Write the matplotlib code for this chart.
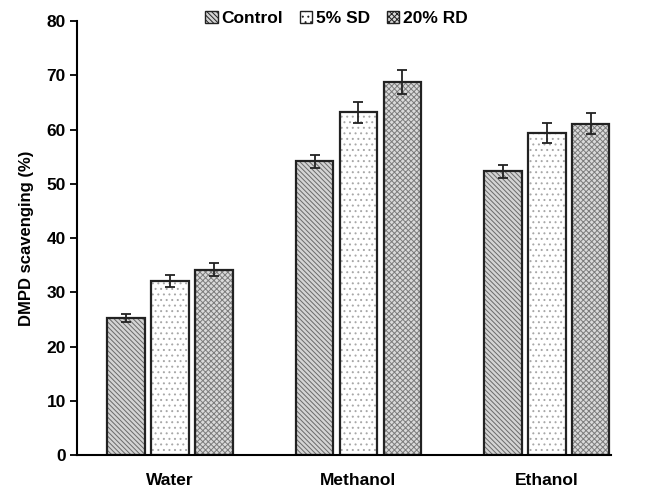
import matplotlib

matplotlib.use("Agg")
import matplotlib.pyplot as plt
import numpy as np
from matplotlib.patches import Patch

plt.rcParams["font.family"] = ["Liberation Sans", "DejaVu Sans"]
plt.rcParams["font.weight"] = "bold"
plt.rcParams["hatch.linewidth"] = 0.7

solvents = ["Water", "Methanol", "Ethanol"]
series = ["Control", "5% SD", "20% RD"]
control = [25.3, 54.2, 52.3]
sd5 = [32.1, 63.2, 59.4]
rd20 = [34.2, 68.8, 61.1]
control_err = [0.7, 1.2, 1.2]
sd5_err = [1.1, 1.9, 1.8]
rd20_err = [1.2, 2.2, 2.0]

values = [control, sd5, rd20]
errors = [control_err, sd5_err, rd20_err]
faces = ["#d4d4d4", "white", "#dadada"]
hatch_cols = ["#6a6a6a", "#a8a8a8", "#7c7c7c"]
hatches = ["\\\\\\\\\\\\\\", "...", "xxxxxx"]

figure = plt.figure(figsize=(6.47, 4.9), dpi=100)
axis = figure.add_axes([0.119, 0.0714, 0.825, 0.8856])

x = np.arange(len(solvents))
width = 0.2
pitch = 0.233
for i, name in enumerate(series):
    pos = x + (i - 1) * pitch
    axis.bar(pos, values[i], width, color=faces[i], edgecolor=hatch_cols[i],
             hatch=hatches[i], linewidth=0)
    axis.bar(pos, values[i], width, facecolor="none", edgecolor="#222222",
             linewidth=1.6)
    axis.errorbar(pos, values[i], yerr=errors[i], fmt="none", ecolor="#222222",
                  elinewidth=1.3, capsize=3.5, capthick=1.3)

axis.set_xlim(-0.495, 2.34)
axis.set_ylim(0, 80)
axis.set_yticks(range(0, 81, 10))
axis.set_xticks(x)
axis.set_xticklabels(solvents)
axis.tick_params(axis="x", length=0, pad=13, labelsize=12.5)
axis.tick_params(axis="y", length=5, width=1.3, labelsize=12.5, pad=3)
axis.spines["top"].set_visible(False)
axis.spines["right"].set_visible(False)
axis.spines["left"].set_linewidth(1.5)
axis.spines["bottom"].set_linewidth(1.5)
axis.set_ylabel("DMPD scavenging (%)", fontsize=12, fontweight="bold",
                labelpad=9)

handles = [Patch(facecolor=faces[i], edgecolor="#222222", hatch=hatches[i],
                 linewidth=1.0) for i in range(3)]
figure.legend(handles, series, loc="center", bbox_to_anchor=(0.52, 0.963),
              ncol=3, frameon=False, fontsize=12.5, handlelength=0.7,
              handleheight=0.7, handletextpad=0.2, columnspacing=1.0)

figure.savefig("out.png", dpi=100)
plt.close(figure)
